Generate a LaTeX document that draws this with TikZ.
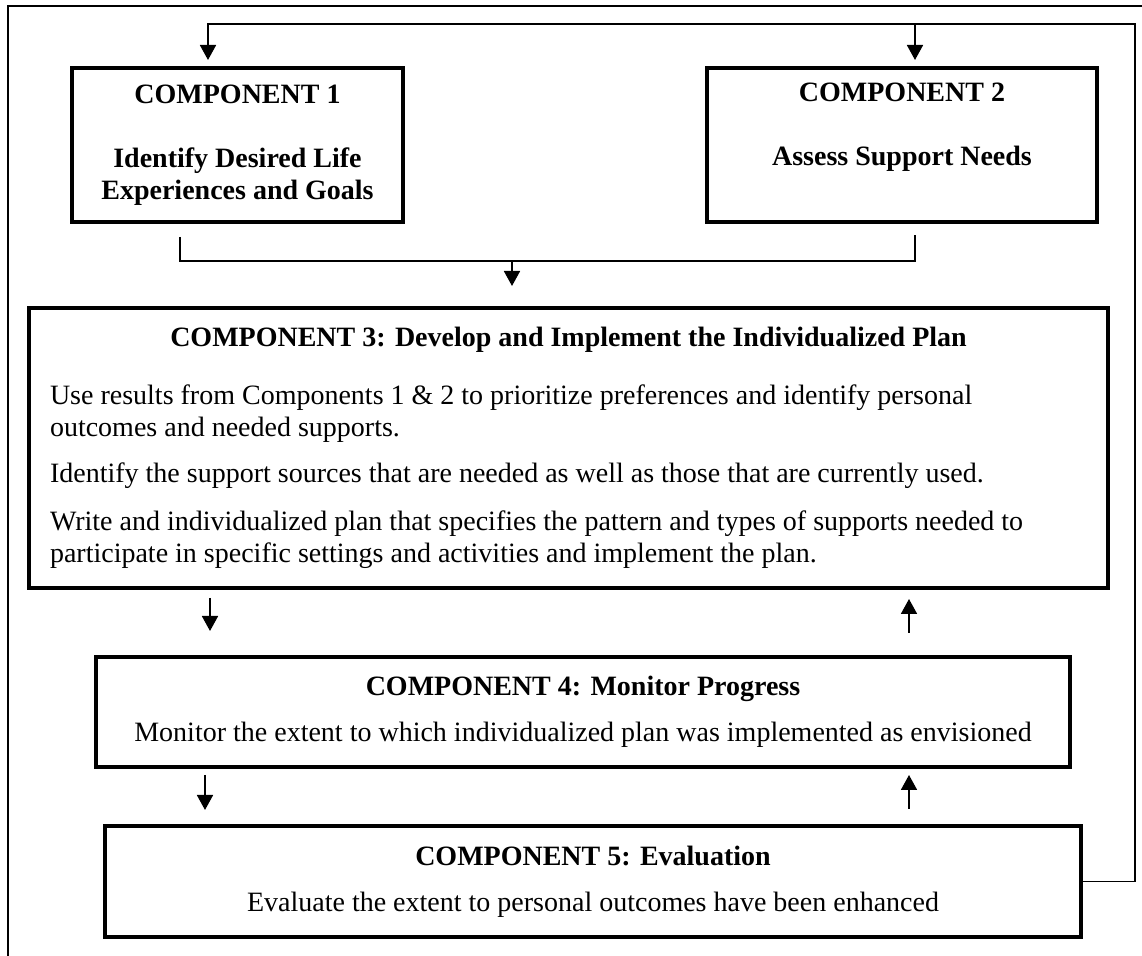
\documentclass[tikz,border=0pt]{standalone}
\usepackage{fontspec}
\setmainfont{Liberation Serif}
\usepackage{tikz}
\usetikzlibrary{shapes,arrows.meta,positioning}

\begin{document}
\begin{tikzpicture}[x=0.5pt, y=-0.5pt]
    % Define styles
    \tikzstyle{component} = [rectangle, draw, line width=2pt, inner sep=0pt, align=center, font=\fontsize{14}{16}\selectfont]
    \tikzstyle{heading} = [component, font=\fontsize{14}{16}\selectfont\bfseries]
    \tikzstyle{link} = [line width=0.9pt]
    \tikzstyle{arrow} = [line width=0.9pt, -{Triangle[width=8pt,length=7.5pt]}]
    \useasboundingbox (0,0) rectangle (1142,956);

    % Outer frame
    \draw [link] (8,956) -- (8,6) -- (1142,6);

    % Components
    \node [heading, minimum width=165.5pt, minimum height=77pt] (comp1) at (237.5,145) {COMPONENT 1\\[16pt]Identify Desired Life\\Experiences and Goals};
    \node [heading, minimum width=195pt, minimum height=77pt] (comp2) at (902,145) {COMPONENT 2\\[16pt]Assess Support Needs\\\strut};
    \node [component, align=flush left, text width=518.5pt, inner xsep=10.5pt, minimum width=539.5pt, minimum height=140pt] (comp3) at (568.5,448) {\noindent\makebox[\hsize]{\bfseries COMPONENT 3: Develop and Implement the Individualized Plan}\\[13pt]
        Use results from Components 1 \& 2 to prioritize preferences and identify personal\\
        outcomes and needed supports.\\[7pt]
        Identify the support sources that are needed as well as those that are currently used.\\[8pt]
        Write and individualized plan that specifies the pattern and types of supports needed to\\
        participate in specific settings and activities and implement the plan.};
    \node [component, minimum width=487pt, minimum height=55pt] (comp4) at (583,712) {\textbf{COMPONENT 4: Monitor Progress}\\[7pt]Monitor the extent to which individualized plan was implemented as envisioned};
    \node [component, minimum width=488pt, minimum height=55.5pt] (comp5) at (593,881.5) {\textbf{COMPONENT 5: Evaluation}\\[7pt]Evaluate the extent to personal outcomes have been enhanced};

    % Arrow columns
    \coordinate (drop) at ([xshift=-28.25pt]comp3.north);
    \coordinate (c2top) at ([xshift=105pt]comp2.north west);
    \coordinate (c3left) at ([xshift=91.5pt]comp3.south west);
    \coordinate (c3right) at ([xshift=-100.5pt]comp3.south east);
    \coordinate (c4left) at ([xshift=55.5pt]comp4.south west);
    \coordinate (c4right) at ([xshift=-81.5pt]comp4.south east);
    \coordinate (corner) at ([shift={(18pt,21pt)}]comp2.north east);

    % Components 1 and 2 into 3
    \draw [link] ([xshift=55pt,yshift=-6.5pt]comp1.south west) -- ++(0,-12pt) coordinate (join) -| ([xshift=105pt,yshift=-5.5pt]comp2.south west);
    \draw [arrow, shorten >=10pt] (drop |- join) -- (drop);

    % Between 3, 4 and 5
    \draw [arrow, shorten <=4pt, shorten >=12pt] (c3left) -- (c3left |- comp4.north);
    \draw [arrow, shorten <=11pt, shorten >=4.5pt] (c3right |- comp4.north) -- (c3right);
    \draw [arrow, shorten <=3pt, shorten >=7pt] (c4left) -- (c4left |- comp5.north);
    \draw [arrow, shorten <=7.5pt, shorten >=3pt] (c4right |- comp5.north) -- (c4right);

    % Feedback loop
    \draw [arrow, shorten >=3pt] (comp5.east) -| (corner) -| ([xshift=69pt]comp1.north west);
    \draw [arrow, shorten >=3pt] (c2top |- corner) -- (c2top);
\end{tikzpicture}
\end{document}
